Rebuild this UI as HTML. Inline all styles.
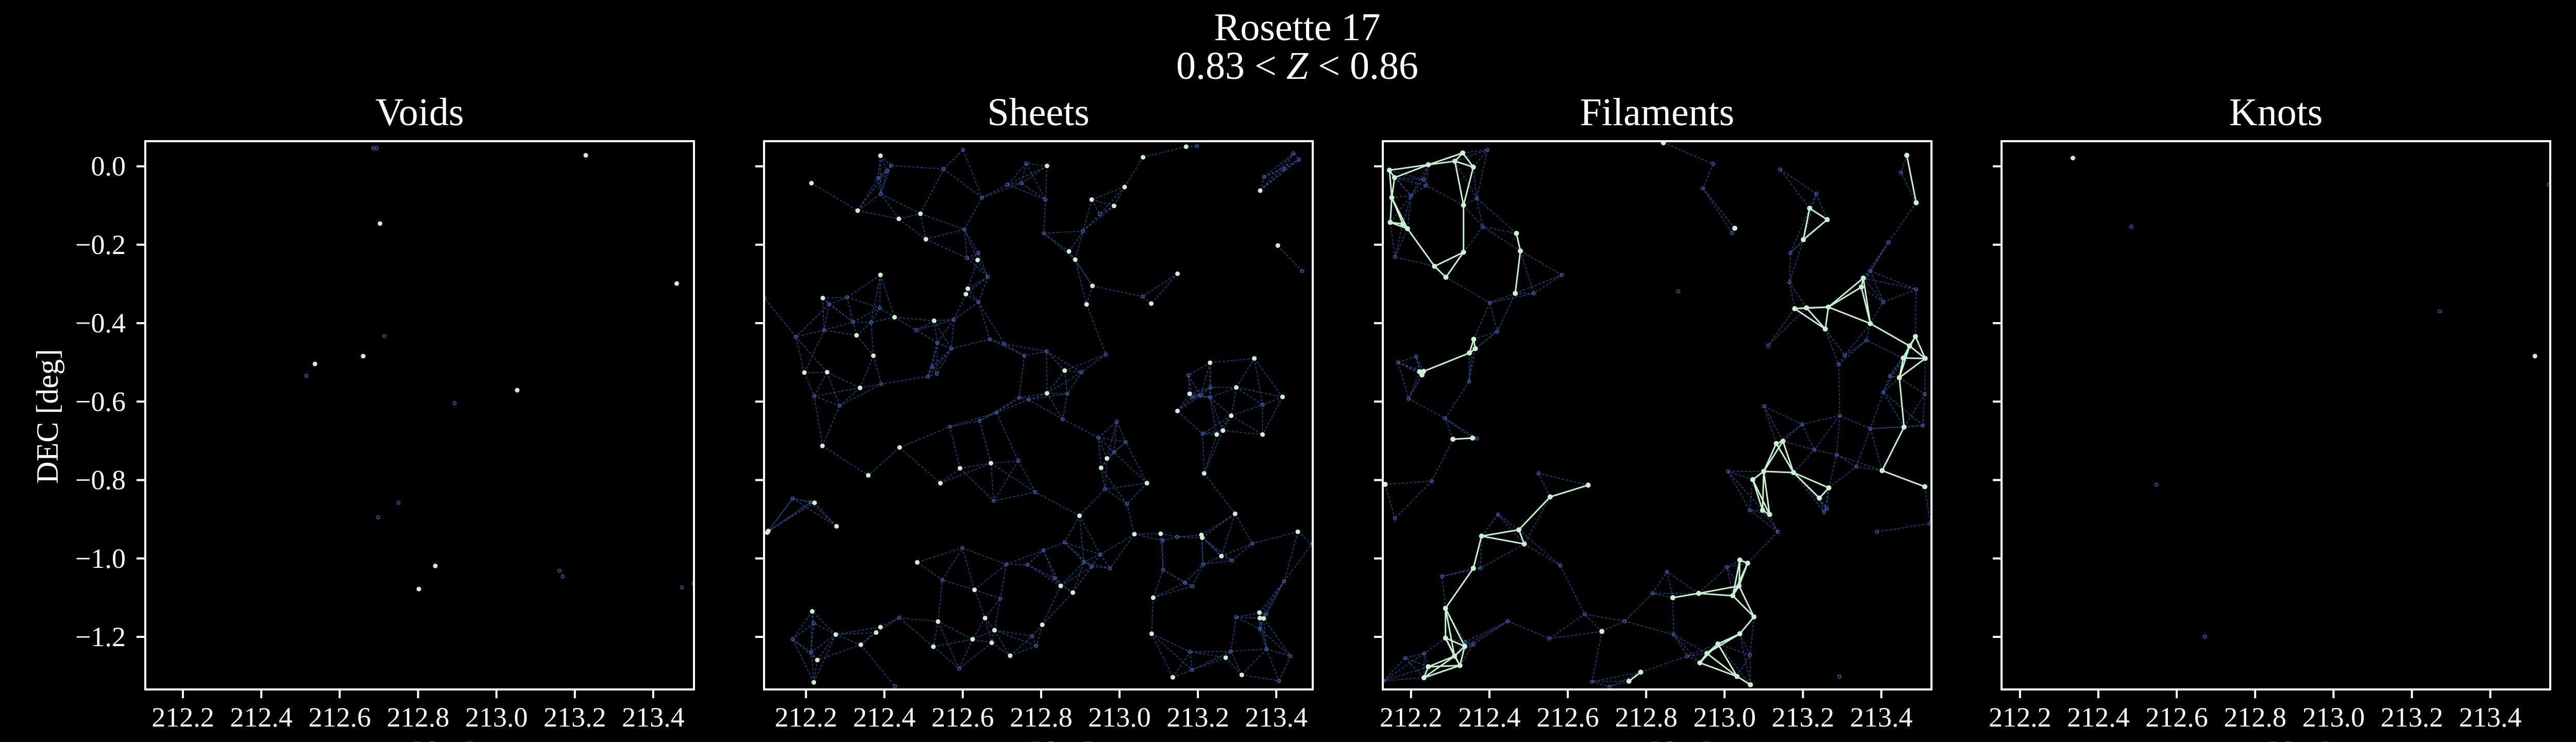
<!DOCTYPE html>
<html><head><meta charset="utf-8"><style>
html,body{margin:0;padding:0;background:#000;overflow:hidden;}
svg{display:block;}
text{font-family:"Liberation Serif",serif;fill:#fff;}
</style></head><body>
<svg id="chart" width="5040" height="1440" viewBox="0 0 5040 1440" xmlns="http://www.w3.org/2000/svg">
<rect x="0" y="0" width="5040" height="1440" fill="#000"/>
<text x="2518" y="78" font-size="76" text-anchor="middle">Rosette 17</text>
<text x="2518" y="153" font-size="76" text-anchor="middle">0.83 &lt; <tspan font-style="italic">Z</tspan> &lt; 0.86</text>
<text transform="translate(112,808) rotate(-90)" font-size="60" text-anchor="middle">DEC [deg]</text>
<g id="panels"></g>
</svg>
<script>
const panelTitles = ["Voids","Sheets","Filaments","Knots"];
const xTicks = [212.2,212.4,212.6,212.8,213.0,213.2,213.4];
const xTickLabels = ["212.2","212.4","212.6","212.8","213.0","213.2","213.4"];
const yTicks = [0.0,-0.2,-0.4,-0.6,-0.8,-1.0,-1.2];
const yTickLabels = ["0.0","\u22120.2","\u22120.4","\u22120.6","\u22120.8","\u22121.0","\u22121.2"];
const xMins = [212.104,212.093,212.128,212.153];
const xSpan = 1.40;
const yMax = 0.064, yMin = -1.334;

const voidsGreen = [[213.228,0.028],[212.703,-0.146],[213.460,-0.299],[212.537,-0.504],[212.660,-0.484],[213.053,-0.571],[212.844,-1.019],[212.802,-1.078]];
const voidsBlue = [[212.686,0.046],[212.694,0.046],[212.714,-0.433],[212.515,-0.534],[212.893,-0.604],[212.750,-0.858],[212.698,-0.895],[213.161,-1.031],[213.169,-1.046],[213.473,-1.074],[213.503,-1.064]];

const sheetsGreen = [[212.214,-0.043],[212.332,-0.113],[212.390,0.027],[212.437,-0.134],[212.492,-0.121],[212.506,-0.186],[212.638,-0.239],[212.613,-0.312],[212.608,-0.326],[212.527,-0.394],[212.815,0.001],[212.929,-0.085],[212.986,-0.101],[213.013,-0.053],[213.060,0.023],[212.871,-0.217],[212.887,-0.238],[213.148,-0.274],[212.931,-0.305],[212.916,-0.352],[213.081,-0.350],[213.170,0.050],[213.359,-0.062],[213.404,-0.202],[212.390,-0.277],[212.426,-0.385],[212.243,-0.336],[212.329,-0.431],[212.254,-0.525],[212.196,-0.526],[212.338,-0.565],[212.372,-0.483],[212.439,-0.717],[212.242,-0.713],[212.359,-0.788],[212.543,-0.808],[212.593,-0.770],[212.672,-0.757],[212.860,-0.521],[212.815,-0.579],[212.953,-0.769],[212.968,-0.745],[213.070,-0.808],[213.148,-0.624],[213.179,-0.580],[213.231,-0.501],[213.298,-0.564],[213.285,-0.636],[213.264,-0.674],[213.248,-0.684],[213.344,-0.490],[213.416,-0.588],[213.365,-0.684],[213.216,-0.783],[212.222,-0.858],[212.278,-0.918],[212.104,-0.930],[212.101,-0.934],[212.898,-0.891],[213.038,-0.938],[213.105,-0.937],[213.209,-0.940],[213.211,-0.947],[213.260,-0.994],[213.295,-0.886],[213.455,-0.932],[213.086,-1.100],[213.082,-1.192],[212.484,-1.010],[212.630,-1.080],[212.657,-1.152],[212.681,-1.183],[212.674,-1.215],[212.625,-1.206],[212.721,-1.248],[212.803,-1.169],[212.537,-1.161],[212.390,-1.175],[212.379,-1.189],[212.340,-1.220],[212.276,-1.194],[212.216,-1.135],[212.229,-1.259],[212.220,-1.316],[212.525,-1.225],[212.850,-1.070],[212.881,-1.087],[213.357,-1.138],[213.358,-1.152],[213.368,-1.153],[213.271,-1.253],[213.312,-1.297],[213.136,-1.303]];
const sheetsBlue = [[212.551,-0.007],[212.601,0.042],[212.417,0.002],[212.407,-0.012],[212.384,-0.030],[212.391,-0.070],[212.604,-0.161],[212.649,-0.080],[212.611,-0.234],[212.640,-0.221],[212.664,-0.282],[212.640,-0.346],[212.577,-0.391],[212.535,-0.450],[212.571,-0.465],[212.481,-0.418],[212.669,-0.441],[212.762,0.007],[212.750,-0.043],[212.714,-0.047],[212.811,-0.085],[212.807,-0.171],[212.907,-0.165],[212.950,-0.122],[213.059,-0.332],[212.965,-0.480],[212.814,-0.472],[212.757,-0.483],[212.903,-0.525],[212.867,-0.580],[212.768,-0.595],[212.744,-0.590],[212.855,-0.645],[212.686,-0.628],[212.643,-0.649],[212.567,-0.664],[212.742,-0.751],[212.785,-0.831],[212.679,-0.853],[212.946,-0.692],[212.993,-0.651],[213.016,-0.703],[212.986,-0.729],[212.963,-0.823],[213.019,-0.861],[212.951,-0.990],[212.909,-1.009],[212.929,-1.021],[212.976,-1.025],[212.860,-0.959],[212.522,-0.511],[212.534,-0.529],[212.511,-0.536],[212.392,-0.555],[212.305,-0.334],[212.259,-0.352],[212.246,-0.418],[212.320,-0.397],[212.366,-0.398],[212.388,-0.361],[212.174,-0.435],[212.221,-0.586],[212.286,-0.611],[212.094,-0.336],[213.176,-0.533],[213.232,-0.564],[213.231,-0.589],[213.186,-0.589],[213.207,-0.584],[213.212,-0.682],[213.365,-0.608],[213.369,-0.027],[213.420,-0.007],[213.444,0.033],[213.458,0.017],[213.198,0.052],[213.110,-0.954],[213.147,-0.945],[213.111,-1.029],[213.167,-1.062],[213.186,-1.071],[213.213,-1.015],[213.287,-1.005],[213.339,-0.962],[213.420,-1.058],[213.298,-1.150],[213.358,-1.180],[213.374,-1.142],[213.375,-1.231],[213.284,-1.237],[213.180,-1.238],[213.185,-1.284],[213.436,-1.249],[213.407,-1.312],[213.491,-0.963],[212.548,-1.055],[212.438,-1.151],[212.599,-0.973],[212.711,-1.015],[212.765,-1.016],[212.696,-1.102],[212.591,-1.281],[212.427,-1.326],[212.777,-1.198],[212.788,-1.223],[212.166,-0.847],[212.212,-0.857],[212.220,-1.165],[212.213,-1.239],[212.166,-1.206],[212.806,-0.979],[212.834,-1.050],[212.706,-0.453],[213.466,-0.267]];

const filGreen = [[212.145,-0.010],[212.158,-0.029],[212.244,0.004],[212.312,0.013],[212.332,0.034],[212.359,-0.002],[212.334,-0.099],[212.151,-0.080],[212.147,-0.143],[212.179,-0.147],[212.191,-0.159],[212.334,-0.219],[212.260,-0.255],[212.289,-0.283],[212.469,-0.171],[212.479,-0.216],[212.466,-0.324],[212.360,-0.441],[212.364,-0.465],[212.349,-0.476],[212.222,-0.524],[212.228,-0.532],[212.232,-0.523],[212.307,-0.696],[212.357,-0.693],[212.134,-0.811],[212.652,-0.813],[212.555,-0.843],[212.475,-0.927],[212.380,-0.943],[212.489,-0.963],[212.359,-1.025],[212.288,-1.127],[212.288,-1.203],[212.337,-1.224],[212.311,-1.249],[212.325,-1.273],[212.244,-1.276],[212.233,-1.304],[212.687,-1.186],[212.844,0.060],[213.026,-0.158],[213.217,-0.107],[213.262,-0.136],[213.201,-0.187],[213.354,-0.285],[213.349,-0.308],[213.265,-0.359],[213.179,-0.363],[213.209,-0.361],[213.257,-0.415],[213.465,0.028],[213.489,-0.093],[213.372,-0.401],[213.487,-0.434],[213.472,-0.458],[213.456,-0.489],[213.512,-0.490],[213.446,-0.539],[213.132,-0.707],[213.149,-0.701],[213.100,-0.778],[213.176,-0.781],[213.072,-0.799],[213.242,-0.846],[213.266,-0.820],[213.097,-0.877],[213.115,-0.888],[213.458,-0.665],[213.402,-0.776],[213.511,-0.817],[213.039,-1.004],[213.059,-1.012],[213.037,-1.070],[212.934,-1.089],[213.021,-1.095],[212.868,-1.100],[213.075,-1.149],[213.039,-1.192],[212.983,-1.218],[212.955,-1.242],[212.937,-1.266],[213.032,-1.301],[213.066,-1.322],[212.786,-1.290],[212.756,-1.313]];
const filBlue = [[212.395,0.042],[212.232,-0.034],[212.238,-0.049],[212.368,-0.082],[212.200,-0.075],[212.159,-0.231],[212.383,-0.154],[212.585,-0.277],[212.513,-0.324],[212.401,-0.348],[212.420,-0.421],[212.167,-0.500],[212.213,-0.485],[212.348,-0.549],[212.194,-0.593],[212.287,-0.643],[212.368,-0.694],[212.253,-0.803],[212.525,-0.783],[212.159,-0.898],[212.422,-0.888],[212.377,-1.025],[212.279,-1.046],[212.581,-1.018],[212.447,-1.160],[212.553,-1.204],[212.185,-1.254],[212.234,-1.242],[212.359,-1.219],[212.338,-1.213],[212.130,-1.312],[212.662,-1.314],[212.706,-1.327],[212.643,-1.142],[212.745,-1.160],[212.816,-1.089],[212.853,-1.034],[212.882,-0.319],[212.971,0.006],[212.945,-0.056],[213.142,-0.008],[213.234,-0.070],[213.019,-0.170],[213.168,-0.221],[213.166,-0.296],[213.372,-0.267],[213.405,-0.346],[213.111,-0.457],[213.307,-0.482],[213.291,-0.505],[213.362,-0.444],[213.489,-0.314],[213.450,-0.016],[213.418,-0.194],[213.422,-0.535],[213.511,-0.581],[213.405,-0.576],[213.101,-0.612],[213.294,-0.636],[213.198,-0.658],[213.372,-0.669],[213.506,-0.661],[213.229,-0.723],[213.286,-0.736],[213.336,-0.766],[213.009,-0.778],[213.064,-0.877],[213.261,-0.873],[213.254,-0.882],[213.136,-0.932],[213.389,-0.932],[213.525,-0.911],[213.006,-1.022],[212.870,-1.194],[212.905,-1.249],[213.065,-1.246],[213.293,-1.301]];

const knotsGreen = [[212.335,0.021],[213.514,-0.484]];
const knotsBlue = [[212.484,-0.154],[213.271,-0.370],[212.548,-0.812],[212.672,-1.199],[213.549,-0.046]];

const NS = "http://www.w3.org/2000/svg";
const boxLefts = [282,1483,2684,3885];
const boxTop = 274, boxW = 1065, boxH = 1064;
const GREEN = "#c9f2d2", BLUE = "#3d63b0", LINEBLUE = "#2f4f92";

function mk(tag, attrs, parent){
  const e = document.createElementNS(NS, tag);
  for (const k in attrs) e.setAttribute(k, attrs[k]);
  parent.appendChild(e);
  return e;
}
function knnEdges(pts, k, maxd){
  const seen = new Set(), edges = [];
  for (let i=0;i<pts.length;i++){
    const d = [];
    for (let j=0;j<pts.length;j++){ if (j===i) continue;
      const dx = pts[i][0]-pts[j][0], dy = pts[i][1]-pts[j][1];
      d.push([Math.hypot(dx,dy), j]); }
    d.sort((a,b)=>a[0]-b[0]);
    for (let n=0;n<Math.min(k,d.length);n++){
      if (d[n][0] > maxd) break;
      const a = Math.min(i,d[n][1]), b = Math.max(i,d[n][1]);
      const key = a+"-"+b;
      if (!seen.has(key)){ seen.add(key); edges.push([a,b]); }
    }
  }
  return edges;
}

const root = document.getElementById("panels");
const allData = [
  {g:voidsGreen,b:voidsBlue,net:false,gnet:false},
  {g:sheetsGreen,b:sheetsBlue,net:true,gnet:false},
  {g:filGreen,b:filBlue,net:true,gnet:true},
  {g:knotsGreen,b:knotsBlue,net:false,gnet:false}
];
const keys = ["voids","sheets","filaments","knots"];

allData.forEach((pd, p) => {
  const L = boxLefts[p];
  const xs = v => L + (v - xMins[p]) / xSpan * boxW;
  const ys = v => boxTop + (yMax - v) / (yMax - yMin) * boxH;
  const g = mk("g", {}, root);
  
  

  const cp = mk("clipPath", {id:"clip"+p}, g);
  mk("rect", {x:L, y:boxTop, width:boxW, height:boxH}, cp);

  const t = mk("text", {x:L+boxW/2, y:243, "font-size":76, "text-anchor":"middle"}, g);
  t.textContent = panelTitles[p];
  
  

  const plot = mk("g", {"clip-path":"url(#clip"+p+")"}, g);
  
  

  const all = pd.g.concat(pd.b);
  if (pd.net){
    knnEdges(all, 4, 0.14).forEach(e => {
      const ln = mk("line", {x1:xs(all[e[0]][0]), y1:ys(all[e[0]][1]), x2:xs(all[e[1]][0]), y2:ys(all[e[1]][1]), stroke:LINEBLUE, "stroke-width":1.6, "stroke-dasharray":"5 3", opacity:0.85}, plot);
      
      
    });
  }
  if (pd.gnet){
    knnEdges(pd.g, 3, 0.13).forEach(e => {
      const ln = mk("line", {x1:xs(pd.g[e[0]][0]), y1:ys(pd.g[e[0]][1]), x2:xs(pd.g[e[1]][0]), y2:ys(pd.g[e[1]][1]), stroke:GREEN, "stroke-width":3}, plot);
      
      
    });
  }
  pd.b.forEach(pt => {
    const c = mk("circle", {cx:xs(pt[0]), cy:ys(pt[1]), r:3, fill:"none", stroke:BLUE, "stroke-width":1.6}, plot);
    
    
  });
  pd.g.forEach(pt => {
    const c = mk("circle", {cx:xs(pt[0]), cy:ys(pt[1]), r:p===2?5:4.5, fill:GREEN}, plot);
    
    
  });

  const fr = mk("rect", {x:L, y:boxTop, width:boxW, height:boxH, fill:"none", stroke:"#fff", "stroke-width":4}, g);
  
  

  xTicks.forEach((v,i) => {
    const x = xs(v);
    const tk = mk("line", {x1:x, y1:boxTop+boxH, x2:x, y2:boxTop+boxH+17, stroke:"#fff", "stroke-width":4}, g);
    
    
    const tl = mk("text", {x:x, y:1410, "font-size":54, "text-anchor":"middle"}, g);
    tl.textContent = xTickLabels[i];
    
    
  });
  yTicks.forEach((v,i) => {
    const y = ys(v);
    const tk = mk("line", {x1:L-17, y1:y, x2:L, y2:y, stroke:"#fff", "stroke-width":4}, g);
    
    
    if (p === 0){
      const tl = mk("text", {x:L-38, y:y+18, "font-size":54, "text-anchor":"end"}, g);
      tl.textContent = yTickLabels[i];
      
      
    }
  });
  const xl = mk("text", {x:L+boxW/2, y:1480, "font-size":58, "text-anchor":"middle"}, g);
  xl.textContent = "RA [deg]";
  
  
});
</script>
</body></html>
